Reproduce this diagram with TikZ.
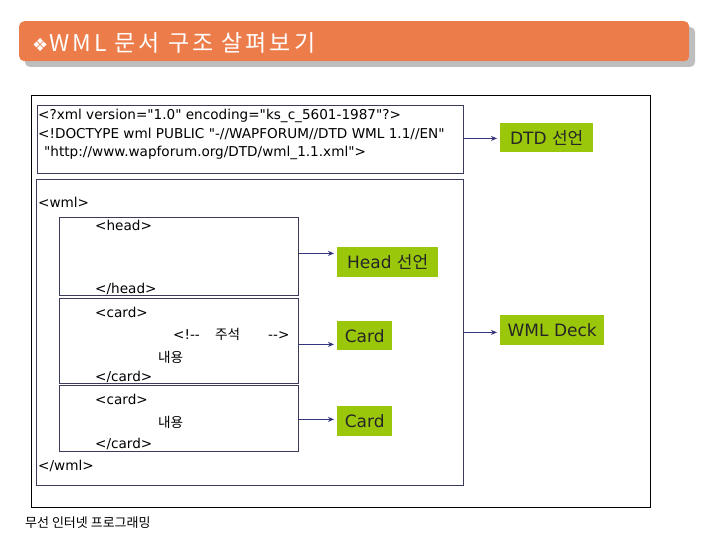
\documentclass[tikz,border=0pt]{standalone}
\usepackage{fontspec}
\setmainfont{DejaVu Sans}[Ligatures=TeXOff]
\newfontfamily\kr{Noto Sans CJK KR}[Ligatures=TeXOff]
\newfontfamily\krtitle{Noto Sans CJK KR}[LetterSpace=13]
\newfontfamily\symf{DejaVu Sans}
\usetikzlibrary{arrows.meta}
\definecolor{titleor}{HTML}{EC7C4A}
\definecolor{shad}{HTML}{BEBEBE}
\definecolor{lgreen}{HTML}{9BC70A}
\definecolor{navy}{HTML}{33337F}
\definecolor{boxline}{HTML}{3A3A5A}
\begin{document}
\begin{tikzpicture}[x=1pt,y=-1pt,
  frame/.style={draw=boxline, line width=0.8pt, inner sep=0pt, anchor=north west},
  code/.style={anchor=west, inner sep=0pt, font=\fontsize{13.6}{15}\selectfont, text=black},
  lbl/.style={fill=lgreen, inner sep=0pt, anchor=north west, font=\fontsize{17}{19}\selectfont, text=black!85},
  arr/.style={draw=navy, line width=1.4pt, -{Stealth[length=6pt,width=5pt]}, shorten >=3pt}]
\useasboundingbox (0,0) rectangle (720,540);
% title bar
\fill[shad, rounded corners=5pt] (25,27) rectangle (695,67);
\node[fill=titleor, rounded corners=5pt, minimum width=670pt, minimum height=40pt, inner sep=0pt, anchor=north west] (title) at (19,21) {};
\node[anchor=west, inner sep=0pt, text=white, font=\fontsize{23}{25}\selectfont] (titletext) at (32,43) {{\symf\fontsize{18}{20}\selectfont ❖}\hspace{1pt}{\krtitle WML 문서 구조 살펴보기}};
% outer frame
\node[draw=black, line width=1pt, inner sep=0pt, minimum width=619pt, minimum height=412pt, anchor=north west] (outer) at (31,95) {};
% code boxes
\node[frame, minimum width=426pt, minimum height=68pt] (dtd) at (37,105) {};
\node[frame, minimum width=427pt, minimum height=306pt] (wml) at (36,179) {};
\node[frame, minimum width=239pt, minimum height=78pt] (head) at (59,217) {};
\node[frame, minimum width=239pt, minimum height=85pt] (card1) at (59,298) {};
\node[frame, minimum width=239pt, minimum height=66pt] (card2) at (59,385) {};
% code text
\node[code] (l1) at (38,116) {<?xml version="1.0" encoding="ks\_c\_5601-1987"?>};
\node[code] (l2) at (38,134) {<!DOCTYPE wml PUBLIC "-//WAPFORUM//DTD WML 1.1//EN"};
\node[code] (l3) at (44,153) {"http://www.wapforum.org/DTD/wml\_1.1.xml">};
\node[code] (t1) at (38,202) {<wml>};
\node[code] (t2) at (95,225) {<head>};
\node[code] (t3) at (95,289) {</head>};
\node[code] (t4) at (95,312) {<card>};
\node[code] (t5) at (173,334) {\makebox[42pt][l]{<!--}\makebox[53pt][l]{\kr 주석}-->};
\node[code] (t6) at (158,357) {\kr 내용};
\node[code] (t7) at (95,377) {</card>};
\node[code] (t8) at (95,399) {<card>};
\node[code] (t9) at (158,422) {\kr 내용};
\node[code] (t10) at (95,444) {</card>};
\node[code] (t11) at (38,466) {</wml>};
% labels
\node[lbl, minimum width=93pt, minimum height=29pt] (dtdl) at (500,123) {DTD {\kr 선언}};
\node[lbl, minimum width=101pt, minimum height=30pt] (headl) at (337,247) {Head {\kr 선언}};
\node[lbl, minimum width=55pt, minimum height=29pt] (card1l) at (337,321) {Card};
\node[lbl, minimum width=55pt, minimum height=30pt] (card2l) at (337,406) {Card};
\node[lbl, minimum width=104pt, minimum height=30pt] (wmll) at (500,315) {WML Deck};
% arrows
\draw[arr] ([yshift=1pt]dtd.east) -- ([yshift=1pt]dtd.east -| dtdl.west);
\draw[arr] ([yshift=3pt]head.east) -- ([yshift=3pt]head.east -| headl.west);
\draw[arr] ([yshift=-3.5pt]card1.east) -- ([yshift=-3.5pt]card1.east -| card1l.west);
\draw[arr] ([yshift=-1pt]card2.east) -- ([yshift=-1pt]card2.east -| card2l.west);
\draw[arr] (wml.east) -- (wml.east -| wmll.west);
% footer
\node[anchor=west, inner sep=0pt, font=\kr\fontsize{13}{15}\selectfont] (footer) at (25,523) {무선 인터넷 프로그래밍};
\end{tikzpicture}
\end{document}
